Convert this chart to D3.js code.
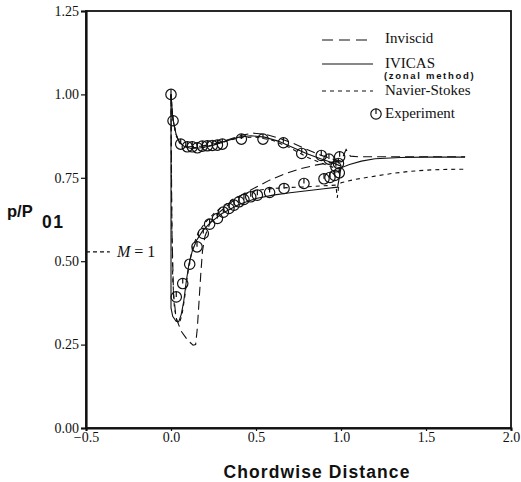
<!DOCTYPE html>
<html>
<head>
<meta charset="utf-8">
<script src="https://cdn.jsdelivr.net/npm/d3@7"></script>
<style>
  html, body { margin: 0; padding: 0; background: #fff; }
  svg { display: block; }
  .tick text { font-family: "Liberation Serif", "Times New Roman", serif; fill: #111; }
</style>
</head>
<body>
<svg id="chart" width="521" height="482"></svg>
<script>
// Axis ticks
const xTicks = [-0.5, 0.0, 0.5, 1.0, 1.5, 2.0];
const yTicks = [0.00, 0.25, 0.50, 0.75, 1.00, 1.25];

// Sonic pressure ratio reference line
const sonicRatio = 0.528;

// IVICAS (zonal method), solid line: [x, p/P01]
const ivicasUpper = [[0.0,1.0],[0.01,0.93],[0.03,0.88],[0.05,0.855],[0.08,0.843],[0.12,0.838],[0.18,0.84],[0.25,0.848],[0.32,0.86],[0.40,0.872],[0.47,0.876],[0.55,0.872],[0.63,0.86],[0.72,0.84],[0.80,0.822],[0.88,0.807],[0.95,0.795],[1.0,0.785]];
const ivicasLower = [[0.0,1.0],[0.0,0.36],[0.01,0.335],[0.03,0.32],[0.045,0.318],[0.06,0.34],[0.075,0.38],[0.09,0.44],[0.105,0.49],[0.125,0.53],[0.15,0.562],[0.185,0.59],[0.23,0.615],[0.3,0.643],[0.4,0.67],[0.5,0.688],[0.6,0.698],[0.7,0.705],[0.8,0.711],[0.9,0.717],[0.98,0.722],[1.0,0.78],[1.05,0.79],[1.12,0.8],[1.2,0.807],[1.35,0.811],[1.5,0.812],[1.73,0.812]];

// Inviscid, long dashes
const inviscidUpper = [[0.0,1.0],[0.01,0.93],[0.03,0.875],[0.06,0.85],[0.1,0.843],[0.18,0.845],[0.26,0.853],[0.34,0.865],[0.42,0.878],[0.48,0.884],[0.56,0.88],[0.64,0.868],[0.72,0.853],[0.80,0.835],[0.88,0.818],[0.95,0.806],[1.0,0.80],[1.03,0.835],[1.055,0.815],[1.1,0.813],[1.3,0.813],[1.5,0.813],[1.73,0.813]];
const inviscidLower = [[0.0,1.0],[0.005,0.6],[0.015,0.4],[0.03,0.33],[0.06,0.29],[0.1,0.262],[0.13,0.248],[0.145,0.25],[0.155,0.3],[0.165,0.38],[0.175,0.46],[0.185,0.53],[0.2,0.575],[0.23,0.615],[0.28,0.645],[0.35,0.675],[0.42,0.7],[0.5,0.722],[0.58,0.743],[0.67,0.762],[0.76,0.777],[0.85,0.788],[0.95,0.797],[1.0,0.80]];

// Navier-Stokes, short dashes
const nsUpper = [[0.0,1.0],[0.01,0.93],[0.03,0.88],[0.05,0.855],[0.1,0.84],[0.2,0.842],[0.3,0.856],[0.4,0.87],[0.5,0.872],[0.6,0.862],[0.7,0.84],[0.8,0.812],[0.88,0.795],[0.95,0.782],[0.978,0.775]];
const nsLower = [[0.0,1.0],[0.003,0.7],[0.01,0.45],[0.02,0.36],[0.035,0.32],[0.05,0.315],[0.065,0.34],[0.08,0.39],[0.095,0.45],[0.11,0.5],[0.13,0.545],[0.16,0.585],[0.2,0.615],[0.25,0.642],[0.3,0.663],[0.36,0.685],[0.43,0.702],[0.5,0.712],[0.6,0.718],[0.7,0.721],[0.8,0.723],[0.9,0.726],[0.97,0.728],[0.978,0.69],[0.985,0.72],[1.0,0.735],[1.08,0.745],[1.2,0.755],[1.3,0.763],[1.4,0.769],[1.5,0.773],[1.6,0.775],[1.74,0.776]];

// Experiment, measured points
const expUpper = [[0.0,1.0],[0.012,0.921],[0.057,0.851],[0.096,0.843],[0.125,0.843],[0.155,0.84],[0.184,0.845],[0.214,0.846],[0.243,0.847],[0.273,0.848],[0.302,0.851],[0.414,0.866],[0.541,0.866],[0.661,0.855],[0.769,0.823],[0.884,0.817],[0.929,0.806],[0.992,0.813]];
const expLower = [[0.031,0.393],[0.069,0.433],[0.110,0.491],[0.153,0.543],[0.190,0.583],[0.227,0.611],[0.273,0.628],[0.308,0.647],[0.341,0.658],[0.371,0.668],[0.400,0.678],[0.429,0.685],[0.469,0.693],[0.508,0.698],[0.580,0.706],[0.665,0.718],[0.782,0.733],[0.900,0.747],[0.935,0.751],[0.963,0.757],[0.970,0.783],[0.985,0.793],[0.990,0.765]];

const legendItems = [
  { label: "Inviscid", dash: "11,6" },
  { label: "IVICAS", dash: null, note: "(zonal method)" },
  { label: "Navier-Stokes", dash: "4,4" }
];

const svg = d3.select("#chart");
const margin = { left: 86, right: 10, top: 11, bottom: 54 };
const W = 521, H = 482;

const x = d3.scaleLinear().domain([-0.5, 2.0]).range([margin.left, W - margin.right]);
const y = d3.scaleLinear().domain([0, 1.25]).range([H - margin.bottom, margin.top]);

const ink = "#111";
const serif = "'Liberation Serif', 'Times New Roman', serif";
const sans = "'Liberation Sans', Arial, sans-serif";

// Frame
svg.append("rect")
  .attr("x", x(-0.5)).attr("y", y(1.25))
  .attr("width", x(2.0) - x(-0.5)).attr("height", y(0) - y(1.25))
  .attr("fill", "none").attr("stroke", ink).attr("stroke-width", 1.8);

// Axes
const yAxis = svg.append("g")
  .attr("transform", `translate(${x(-0.5)},0)`)
  .call(d3.axisLeft(y).tickValues(yTicks).tickFormat(d3.format(".2f")).tickSize(5).tickPadding(2));
yAxis.select(".domain").attr("stroke", ink).attr("stroke-width", 2.2);
yAxis.selectAll(".tick line").attr("stroke", ink).attr("stroke-width", 1.2);
yAxis.selectAll(".tick text").attr("font-size", 14).attr("dy", "0.3em");

const xAxis = svg.append("g")
  .attr("transform", `translate(0,${y(0)})`)
  .call(d3.axisBottom(x).tickValues(xTicks).tickFormat(d3.format(".1f")).tickSize(3));
xAxis.select(".domain").attr("stroke", ink).attr("stroke-width", 2);
xAxis.selectAll(".tick line").attr("stroke", ink).attr("stroke-width", 1.2);
xAxis.selectAll(".tick text").attr("font-size", 14).attr("y", 4);

// Axis titles
const yTitle = svg.append("text")
  .attr("font-family", sans)
  .attr("font-weight", "bold").attr("fill", ink);
yTitle.append("tspan").attr("x", 7).attr("y", 217).attr("font-size", 16.5).text("p/P");
yTitle.append("tspan").attr("x", 42).attr("y", 228).attr("font-size", 17.5).attr("letter-spacing", 1.5).text("01");

svg.append("text")
  .attr("x", 317).attr("y", 478)
  .attr("text-anchor", "middle")
  .attr("font-family", sans)
  .attr("font-weight", "bold").attr("font-size", 17.5)
  .attr("letter-spacing", 1.1)
  .attr("fill", ink).text("Chordwise Distance");

// Sonic line annotation
svg.append("line")
  .attr("x1", x(-0.5)).attr("x2", x(-0.36))
  .attr("y1", y(sonicRatio)).attr("y2", y(sonicRatio))
  .attr("stroke", ink).attr("stroke-width", 1.1).attr("stroke-dasharray", "4,3");
svg.append("text")
  .attr("x", 117).attr("y", y(sonicRatio) + 5.5)
  .attr("font-family", serif).attr("font-size", 16)
  .attr("fill", ink)
  .html('<tspan font-style="italic">M</tspan> = 1');

// Curves
const line = d3.line().x(d => x(d[0])).y(d => y(d[1]));
const curves = [
  { data: inviscidUpper, dash: "9,5" },
  { data: inviscidLower, dash: "9,5" },
  { data: nsUpper, dash: "4,4" },
  { data: nsLower, dash: "4,4" },
  { data: ivicasUpper, dash: null },
  { data: ivicasLower, dash: null }
];
svg.append("g").selectAll("path").data(curves).join("path")
  .attr("d", d => line(d.data))
  .attr("fill", "none").attr("stroke", ink).attr("stroke-width", 1.1)
  .attr("stroke-dasharray", d => d.dash);

// Experimental markers: circle with a tick from the top to the centre
function marker(g) {
  g.append("circle").attr("r", 5.2).attr("fill", "none").attr("stroke", ink).attr("stroke-width", 1.2);
  g.append("line").attr("x1", 0).attr("x2", 0).attr("y1", -5.2).attr("y2", 0).attr("stroke", ink).attr("stroke-width", 1.2);
}
svg.append("g").selectAll("g").data(expUpper.concat(expLower)).join("g")
  .attr("transform", d => `translate(${x(d[0])},${y(d[1])})`)
  .each(function () { marker(d3.select(this)); });

// Legend
const leg = svg.append("g");
const legLineY = [40, 64, 91];
const legTextY = [43, 68, 95];
legendItems.forEach((it, i) => {
  leg.append("line")
    .attr("x1", 322).attr("x2", 373).attr("y1", legLineY[i]).attr("y2", legLineY[i])
    .attr("stroke", ink).attr("stroke-width", 1.1)
    .attr("stroke-dasharray", it.dash);
  leg.append("text")
    .attr("x", 385).attr("y", legTextY[i])
    .attr("font-family", serif).attr("font-size", 15)
    .attr("fill", ink).text(it.label);
  if (it.note) {
    leg.append("text")
      .attr("x", 384).attr("y", legTextY[i] + 11)
      .attr("font-family", sans)
      .attr("font-weight", "bold").attr("font-size", 9.5)
      .attr("letter-spacing", 1.7)
      .attr("fill", ink).text(it.note);
  }
});
const legMarker = leg.append("g").attr("transform", "translate(376,114)");
marker(legMarker);
leg.append("text")
  .attr("x", 385).attr("y", 118)
  .attr("font-family", serif).attr("font-size", 15)
  .attr("fill", ink).text("Experiment");
</script>
</body>
</html>
